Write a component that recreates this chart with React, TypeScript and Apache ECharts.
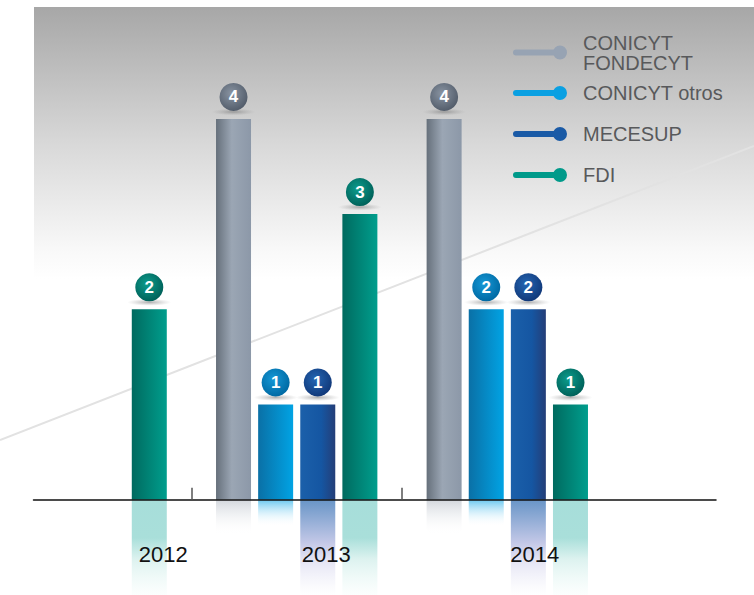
import React, { useEffect, useRef } from "react";
import * as echarts from "echarts";

// ---- data ----
const years = ["2012", "2013", "2014"];
const funds = ["CONICYT FONDECYT", "CONICYT otros", "MECESUP", "FDI"];
const fondecyt: (number | null)[] = [null, 4, 4];
const conicytOtros: (number | null)[] = [null, 1, 2];
const mecesup: (number | null)[] = [null, 1, 2];
const fdi: (number | null)[] = [2, 3, 1];
const valuesByFund = [fondecyt, conicytOtros, mecesup, fdi];

// ---- layout / style ----
const FONT = "'Liberation Sans', Arial, sans-serif";
const yearLabelPos = [0.33, 4.2, 9.15];
const reflectLen = [0.37, 0.28, 1, 1];
const legendTops = [25, 79, 120, 160];
const legendPads = [
  [15, 0, 0, 11],
  [8, 0, 0, 11],
  [0, 0, 8, 11],
  [0, 0, 10, 11],
];
const legendColors = ["#97a3b3", "#0aa0e2", "#1a5aa6", "#009a8a"];
const X_MIN = -2.749;
const X_MAX = 13.455;

const lin = (stops: [number, string][], vertical = false) =>
  new echarts.graphic.LinearGradient(0, 0, vertical ? 0 : 1, vertical ? 1 : 0,
    stops.map(([offset, color]) => ({ offset, color })));
const rad = (c1: string, c2: string) =>
  new echarts.graphic.RadialGradient(0.42, 0.38, 0.62, [
    { offset: 0, color: c1 },
    { offset: 1, color: c2 },
  ]);

const barColors = [
  lin([[0, "#66707b"], [0.45, "#9ba6b4"], [1, "#8c98a8"]]),
  lin([[0, "#0a70a6"], [1, "#01a3e4"]]),
  lin([[0, "#1b60aa"], [0.6, "#1556a2"], [1, "#243e78"]]),
  lin([[0, "#006a5f"], [1, "#009e8d"]]),
];
const reflectColors = [
  lin([[0, "#d2d6dc"], [1, "rgba(255,255,255,0)"]], true),
  lin([[0, "#68c7f0"], [1, "rgba(255,255,255,0)"]], true),
  lin([[0, "#6895c7"], [0.45, "#c3c8e7"], [0.62, "#e2e2f3"], [1, "rgba(255,255,255,0.6)"]], true),
  lin([[0, "#a7deda"], [0.4, "#a9dfda"], [0.62, "#dcf2ef"], [1, "rgba(250,254,253,0.6)"]], true),
];
const badgeColors = [
  rad("#8994a2", "#545e6c"),
  rad("#1598d6", "#006aa4"),
  rad("#2466b3", "#11397a"),
  rad("#0c9c8c", "#00625a"),
];

const legendIcon =
  "path://M3,4 L47,4 L47,10 L3,10 A3,3 0 0 1 3,4 Z M40,7 A7,7 0 1 1 54,7 A7,7 0 1 1 40,7 Z";
const ellipseIcon = "path://M0,5 A20,5 0 1 1 40,5 A20,5 0 1 1 0,5 Z";

export default function App() {
  const ref = useRef<HTMLDivElement>(null);
  useEffect(() => {
    if (!ref.current) return;
    const chart = echarts.init(ref.current, null, { renderer: "svg" });

    // slot positions: bars of one year are consecutive, one empty slot between years
    const slots: number[][] = funds.map(() => []);
    const gapSlots: number[] = [];
    let pos = 0;
    years.forEach((_, yi) => {
      valuesByFund.forEach((arr, fi) => {
        if (arr[yi] != null) slots[fi][yi] = pos++;
      });
      if (yi < years.length - 1) gapSlots.push(pos++);
    });

    const points = (fi: number) =>
      years
        .map((_, yi) => (valuesByFund[fi][yi] == null ? null : [slots[fi][yi], valuesByFund[fi][yi] as number]))
        .filter((p): p is number[] => p !== null);

    const barSeries = funds.map((f, fi) => ({
      name: f,
      type: "bar",
      barWidth: 35,
      barGap: "-100%",
      z: 3,
      data: points(fi),
      itemStyle: { color: barColors[fi] },
      emphasis: { disabled: true },
    }));
    const reflectSeries = funds.map((f, fi) => ({
      name: f + " reflejo",
      type: "bar",
      xAxisIndex: 1,
      yAxisIndex: 1,
      barWidth: 35,
      barGap: "-100%",
      z: 2,
      data: points(fi).map(([x]) => [x, -reflectLen[fi]]),
      itemStyle: { color: reflectColors[fi] },
      emphasis: { disabled: true },
      silent: true,
    }));
    const allPoints = funds.flatMap((_, fi) => points(fi).map((p) => ({ p, fi })));
    const shadowSeries = {
      name: "sombra",
      type: "scatter",
      z: 3,
      symbol: ellipseIcon,
      symbolSize: [44, 7],
      symbolOffset: [0, -7],
      data: allPoints.map(({ p }) => p),
      itemStyle: {
        opacity: 1,
        color: new echarts.graphic.RadialGradient(0.5, 0.5, 0.5, [
          { offset: 0, color: "rgba(110,110,110,0.55)" },
          { offset: 1, color: "rgba(150,150,150,0)" },
        ]),
      },
      emphasis: { disabled: true },
      silent: true,
    };
    const badgeSeries = {
      name: "valor",
      type: "scatter",
      z: 4,
      symbol: "circle",
      symbolSize: 28,
      symbolOffset: [0, -22],
      itemStyle: { opacity: 1 },
      data: allPoints.map(({ p, fi }) => ({ value: p, itemStyle: { color: badgeColors[fi], opacity: 1 } })),
      label: {
        show: true,
        position: "inside",
        formatter: (prm: any) => String(prm.value[1]),
        color: "#ffffff",
        fontSize: 17,
        fontWeight: "bold",
        fontFamily: "'Liberation Sans Narrow', 'Liberation Sans', sans-serif",
      },
      emphasis: { disabled: true },
      silent: true,
    };

    chart.setOption({
      animation: false,
      backgroundColor: "#ffffff",
      graphic: [
        {
          type: "rect",
          z: -10,
          silent: true,
          shape: { x: 34, y: 7, width: 720, height: 272 },
          style: {
            fill: lin([[0, "#a7a7a7"], [0.5, "#d8d8d8"], [0.9, "#f9f9f9"], [1, "#ffffff"]], true),
          },
        },
        {
          type: "line",
          z: -9,
          silent: true,
          shape: { x1: 0, y1: 440, x2: 754, y2: 146 },
          style: { stroke: "#e2e2e2", lineWidth: 2 },
        },
      ],
      legend: funds.map((f, i) => ({
        data: [{ name: f, icon: legendIcon, itemStyle: { color: legendColors[i] } }],
        left: 513,
        top: legendTops[i],
        padding: 0,
        itemWidth: 54,
        itemHeight: 14,
        selectedMode: false,
        formatter: (n: string) => (n === "CONICYT FONDECYT" ? "CONICYT\nFONDECYT" : n),
        textStyle: {
          fontFamily: FONT,
          fontSize: 20,
          color: "#58595b",
          lineHeight: 20,
          padding: legendPads[i],
        },
      })),
      grid: [
        { left: 33.5, right: 38, top: 23.7, height: 476, containLabel: false, outerBoundsMode: "none" },
        { left: 33.5, right: 38, top: 499.7, height: 95.3, containLabel: false, outerBoundsMode: "none" },
      ],
      xAxis: [
        {
          type: "value",
          gridIndex: 0,
          min: X_MIN,
          max: X_MAX,
          splitLine: { show: false },
          axisLine: { show: true, onZero: false, lineStyle: { color: "#111111", width: 1.5 } },
          axisTick: {
            show: true,
            inside: true,
            length: 12,
            customValues: gapSlots,
            lineStyle: { color: "#555555", width: 1.5 },
          },
          axisLabel: {
            show: true,
            customValues: yearLabelPos,
            margin: 44,
            fontFamily: FONT,
            fontSize: 22,
            color: "#111111",
            formatter: (v: number) => {
              let best = 0;
              yearLabelPos.forEach((p, i) => {
                if (Math.abs(p - v) < Math.abs(yearLabelPos[best] - v)) best = i;
              });
              return years[best];
            },
          },
          z: 5,
        },
        { type: "value", gridIndex: 1, min: X_MIN, max: X_MAX, show: false, splitLine: { show: false } },
      ],
      yAxis: [
        { type: "value", gridIndex: 0, min: 0, max: 5, show: false, splitLine: { show: false } },
        { type: "value", gridIndex: 1, min: -1, max: 0, show: false, splitLine: { show: false } },
      ],
      series: [...reflectSeries, ...barSeries, shadowSeries, badgeSeries],
    });
    return () => chart.dispose();
  }, []);
  return <div ref={ref} style={{ position: "fixed", left: 0, top: 0, width: 754, height: 595 }} />;
}
